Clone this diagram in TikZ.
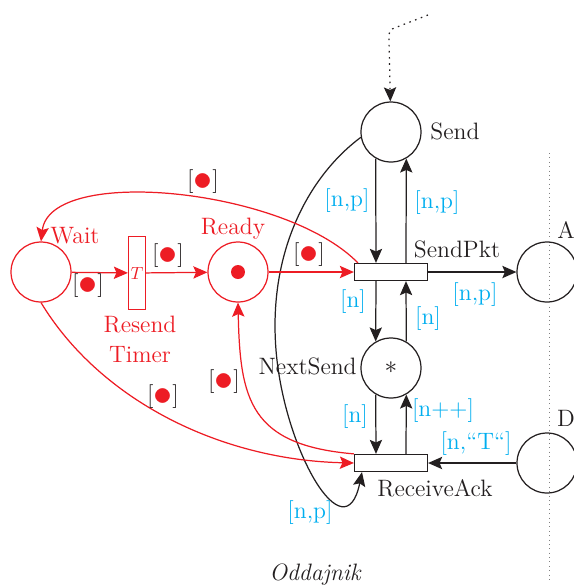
\documentclass[tikz,border=0pt]{standalone}
\usepackage{tikz}
\usetikzlibrary{arrows.meta, positioning}
\definecolor{pnRed}{RGB}{237,28,36}
\definecolor{pnCyan}{RGB}{0,174,239}
\definecolor{pnGray}{RGB}{35,31,32}
\tikzstyle{place} = [draw, circle, minimum size=1.2cm, inner sep=0pt]
\tikzstyle{trans} = [draw, rectangle, minimum width=1.46cm, minimum height=0.34cm, inner sep=0pt]
\tikzstyle{vtrans} = [draw, rectangle, minimum width=0.34cm, minimum height=1.46cm, inner sep=0pt]
\tikzstyle{inscr} = [text=pnCyan, inner sep=1pt]
\tikzstyle{txt} = [inner sep=1pt]
\newcommand{\tok}{[\raisebox{-0.12em}{\textcolor{pnRed}{\scalebox{1.5}{$\bullet$}}}]}

\begin{document}
\begin{tikzpicture}[x=0.02cm, y=-0.02cm, >={Stealth[length=8pt,width=7pt,inset=1.5pt]},
    line width=0.7pt, draw=pnGray, text=pnGray, font=\fontsize{13.5}{17}\selectfont]
        \useasboundingbox (0,0) rectangle (574,586);
        % We start by placing the places and transitions
        \node [place] (send) at (391,132) {};
        \node [trans] (sendPkt) at (391,272) {};
        \node [place] (nextSend) at (391,368) {$\ast$};
        \node [trans] (rcvAck) at (391,463) {};
        \node [place] (ack) at (547,272) {};
        \node [place] (data) at (547,463) {};
        \node [place, draw=pnRed] (wait) at (41,272) {};
        \node [vtrans, draw=pnRed] (timer) at (137,273) {\fontsize{10}{12}\selectfont\color{pnRed}$T$};
        \node [place, draw=pnRed] (ready) at (238,272) {};
        \fill [pnRed] (ready.center) circle (0.14cm);
        \coordinate (src) at (428,15);

        % names of the places and transitions
        \node [txt] (sendLbl) at (455,131) {Send};
        \node [txt] (sendPktLbl) at (457,249) {SendPkt};
        \node [txt, anchor=east] (nextSendLbl) at (359,366) {NextSend};
        \node [txt] (rcvAckLbl) at (435,488) {ReceiveAck};
        \node [txt] (ackLbl) at (566,230) {A};
        \node [txt] (dataLbl) at (566,418) {D};
        \node [txt, text=pnRed] (waitLbl) at (75,236) {Wait};
        \node [txt, text=pnRed] (readyLbl) at (233,229) {Ready};
        \node [txt, text=pnRed, align=center] (timerLbl) at (140,339) {Resend\\Timer};
        \node [txt] (senderLbl) at (315,575) {\itshape Oddajnik};

        % separator
        \draw [dotted, line width=0.5pt, gray] (549,153) -- (549,582);

        % Once the nodes are placed, connecting them is easy.
        \draw [->, dash pattern=on 0.9pt off 2.6pt] (src) -- (397,27) .. controls (389,30) .. (389,40) -- (send);
        \draw [->] (send.240) -- ([xshift=-0.3cm]sendPkt.north);
        \draw [->] ([xshift=0.3cm]sendPkt.north) -- (send.300);
        \draw [->] ([xshift=-0.3cm]sendPkt.south) -- (nextSend.120);
        \draw [->] (nextSend.60) -- ([xshift=0.3cm]sendPkt.south);
        \draw [->] (nextSend.240) -- ([xshift=-0.3cm]rcvAck.north);
        \draw [->] ([xshift=0.3cm]rcvAck.north) -- (nextSend.300);
        \draw [->] (sendPkt) -- (ack);
        \draw [->] (data) -- (rcvAck);
        \draw [->] (send.190) .. controls (310,175) and (268,250) .. (276,350)
            .. controls (284,450) and (345,555) .. ([xshift=-0.58cm]rcvAck.south);

        \begin{scope}[draw=pnRed]
        \draw [->] (wait) -- (timer);
        \draw [->] (timer) -- (ready);
        \draw [->] (ready) -- (sendPkt);
        \draw [->] ([xshift=0.08cm]sendPkt.north west) .. controls (285,188) and (50,165) .. (wait.north);
        \draw [->] (wait.south) .. controls (100,400) and (220,460) .. (rcvAck.west);
        \draw [->] (rcvAck.north west) .. controls (250,445) and (240,400) .. (ready.south);
        \end{scope}

        % arc inscriptions
        \node [inscr] (i1) at (347,201) {[n,p]};
        \node [inscr] (i2) at (437,203) {[n,p]};
        \node [inscr] (i3) at (475,295) {[n,p]};
        \node [inscr] (i4) at (353,302) {[n]};
        \node [inscr] (i5) at (428,319) {[n]};
        \node [inscr] (i6) at (355,417) {[n]};
        \node [inscr] (i7) at (443,411) {[n++]};
        \node [inscr] (i8) at (476,444) {[n,``T``]};
        \node [inscr] (i9) at (310,513) {[n,p]};
        \node [txt] (t1) at (309,255) {\tok};
        \node [txt] (t2) at (88,286) {\tok};
        \node [txt] (t3) at (168,256) {\tok};
        \node [txt] (t4) at (203,182) {\tok};
        \node [txt] (t5) at (163,397) {\tok};
        \node [txt] (t6) at (224,382) {\tok};
    \end{tikzpicture}
\end{document}
